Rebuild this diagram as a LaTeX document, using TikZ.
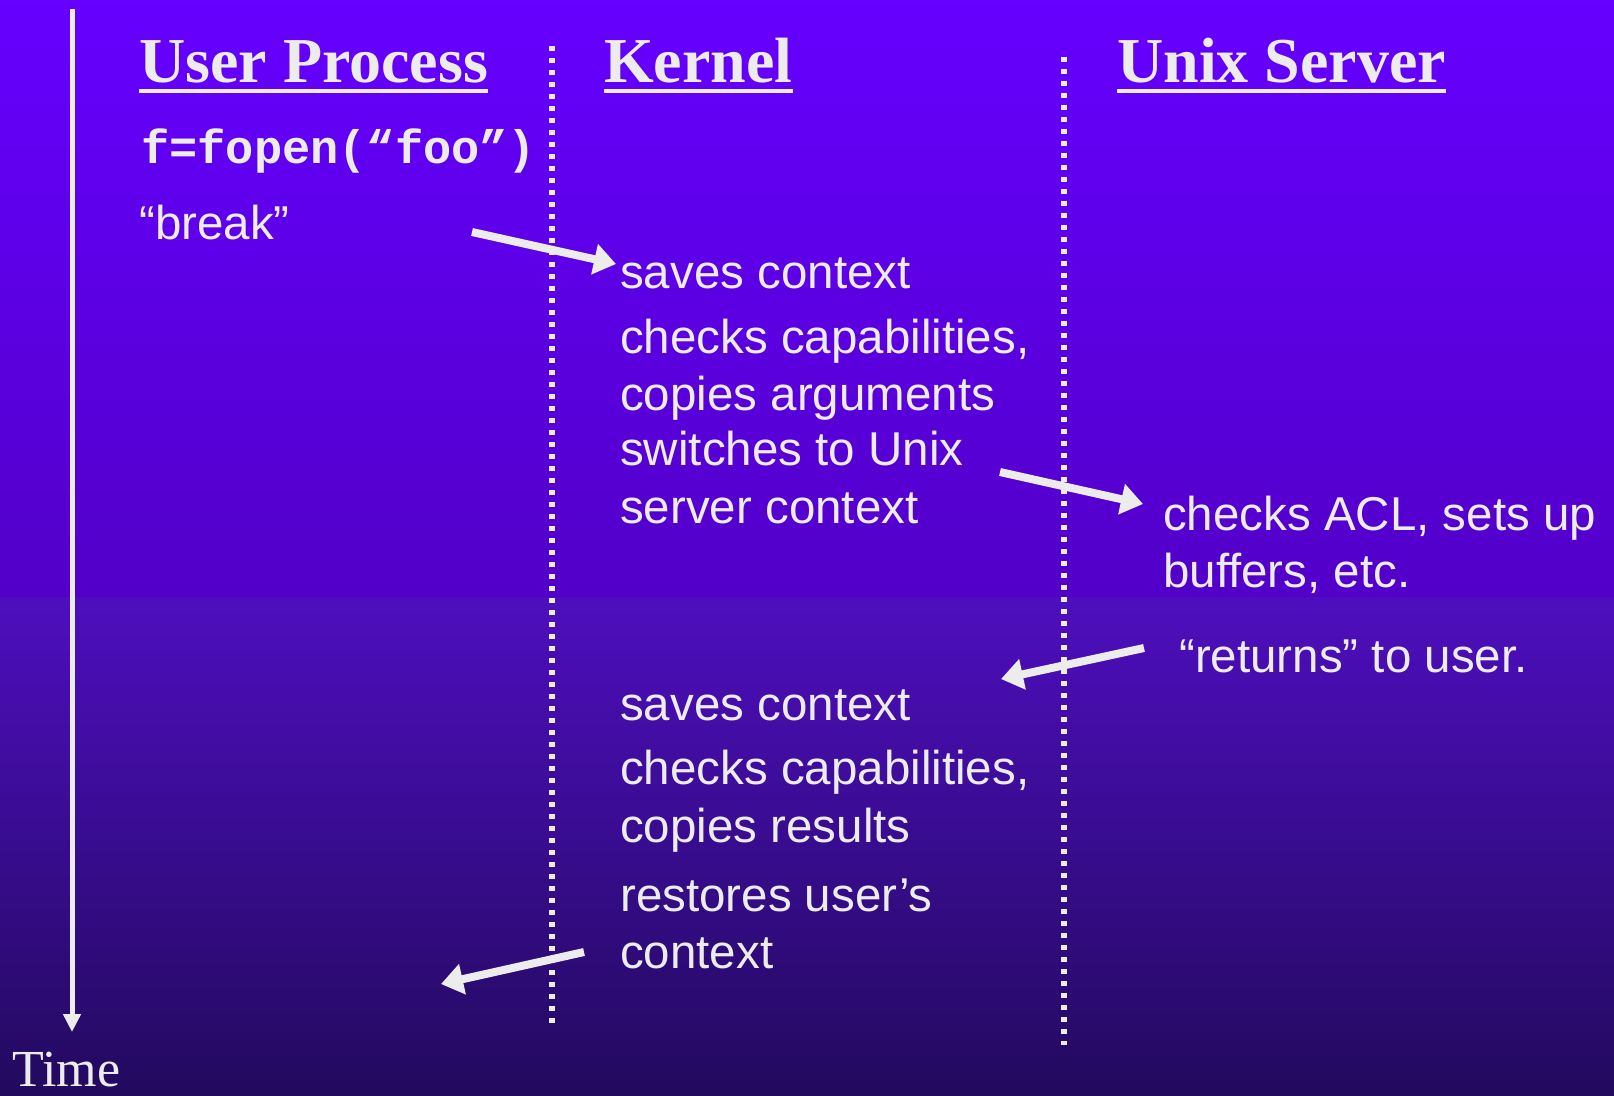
\documentclass[tikz,border=0pt]{standalone}
\usepackage{fontspec}
\setmainfont{Liberation Serif}
\setsansfont{Liberation Sans}
\setmonofont{Liberation Mono}
\usepackage{tikz}
\usetikzlibrary{arrows.meta,calc,positioning}
\usepackage{xcolor}
\definecolor{fg}{RGB}{236,236,236}
\definecolor{bgtop}{RGB}{102,0,255}
\definecolor{bgmid}{RGB}{82,0,200}
\definecolor{bglow}{RGB}{78,14,190}
\definecolor{bgend}{RGB}{34,10,94}
\tikzset{
  txt/.style={anchor=base west,inner sep=0pt,text=fg,font=\sffamily\fontsize{47.5}{56}\selectfont},
  head/.style={anchor=base west,inner sep=0pt,text=fg,font=\bfseries\fontsize{64}{70}\selectfont},
  code/.style={anchor=base west,inner sep=0pt,text=fg,font=\ttfamily\bfseries\fontsize{47}{56}\selectfont},
  sep/.style={fg,line width=6pt,dash pattern=on 5pt off 7pt},
  flow/.style={fg,line width=8pt,-{Triangle[length=22pt,width=30pt]}},
  uline/.style={fg,line width=4.5pt}
}

\begin{document}
\begin{tikzpicture}[x=1pt,y=-1pt]
\useasboundingbox (0,0) rectangle (1614,1095);
\shade[top color=bgtop,bottom color=bgmid] (0,0) rectangle (1614,597);
\shade[top color=bglow,bottom color=bgend] (0,597) rectangle (1614,1095);

\coordinate (ttop) at (72,9);
\coordinate (tend) at (72,1032);
\draw[fg,line width=5pt,-{Triangle[length=18pt,width=17pt]}] (ttop) -- (tend);
\node[anchor=base west,inner sep=0pt,text=fg,font=\fontsize{52}{60}\selectfont] (time) at (12,1086) {Time};

\coordinate (s1top) at (552,46);
\coordinate (s1bot) at (552,1029);
\coordinate (s2top) at (1064,57);
\coordinate (s2bot) at (1064,1045);
\draw[sep] (s1top) -- (s1bot);
\draw[sep] (s2top) -- (s2bot);

\node[head] (user) at (139,82) {User Process};
\node[head] (kern) at (604,82) {Kernel};
\node[head] (unix) at (1117,82) {Unix Server};
\foreach \n in {user,kern,unix}
  \draw[uline] ($(\n.base west)+(0,9)$) -- ($(\n.base east)+(0,9)$);

\node[code] (fopen) at (141,163) {f=fopen(“foo”)};
\node[txt] (brk) at (139,239) {“break”};

\node[txt] (k1) at (620,288) {saves context};
\node[txt] (k2) at (620,353) {checks capabilities,};
\node[txt] (k3) at (620,410) {copies arguments};
\node[txt] (k4) at (620,465) {switches to Unix};
\node[txt] (k5) at (620,523) {server context};

\node[txt] (u1) at (1163,530) {checks ACL, sets up};
\node[txt] (u2) at (1163,587) {buffers, etc.};
\node[txt] (u3) at (1179,672) {“returns” to user.};

\node[txt] (k6) at (620,720) {saves context};
\node[txt] (k7) at (620,784) {checks capabilities,};
\node[txt] (k8) at (620,842) {copies results};
\node[txt] (k9) at (620,911) {restores user’s};
\node[txt] (k10) at (620,968) {context};

\coordinate (a1s) at (472,232);
\coordinate (a1e) at (616,264);
\coordinate (a2s) at (1000,472);
\coordinate (a2e) at (1143,504);
\coordinate (a3s) at (1144,648);
\coordinate (a3e) at (1001,679);
\coordinate (a4s) at (584,952);
\coordinate (a4e) at (441,984);
\draw[flow] (a1s) -- (a1e);
\draw[flow] (a2s) -- (a2e);
\draw[flow] (a3s) -- (a3e);
\draw[flow] (a4s) -- (a4e);
\end{tikzpicture}
\end{document}
